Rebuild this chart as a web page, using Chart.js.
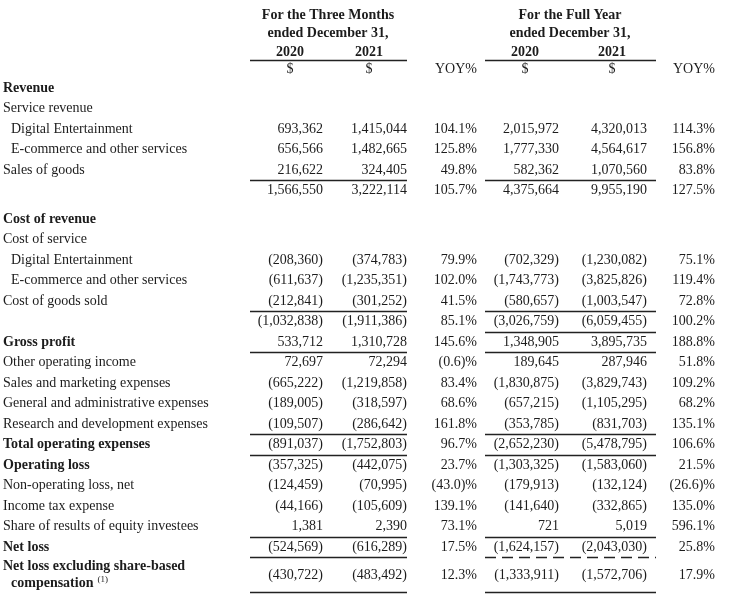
<!DOCTYPE html>
<html><head><meta charset="utf-8">
<script src="https://cdn.jsdelivr.net/npm/chart.js@4/dist/chart.umd.min.js"></script>
<style>html,body{margin:0;padding:0;background:#fff;}#wrap{width:740px;height:596px;}</style>
</head><body><div id="wrap"><canvas id="c" width="740" height="596"></canvas></div>
<script>
// ---------- DATA ----------
const rowLabels = [
  "Revenue", "Service revenue", "Digital Entertainment", "E-commerce and other services", "Sales of goods", "",
  "Cost of revenue", "Cost of service", "Digital Entertainment", "E-commerce and other services", "Cost of goods sold", "",
  "Gross profit", "Other operating income", "Sales and marketing expenses", "General and administrative expenses",
  "Research and development expenses", "Total operating expenses", "Operating loss", "Non-operating loss, net",
  "Income tax expense", "Share of results of equity investees", "Net loss", "Net loss excluding share-based|compensation"
];
const threeMonths2020 = [null, null, 693362, 656566, 216622, 1566550, null, null, -208360, -611637, -212841, -1032838,
  533712, 72697, -665222, -189005, -109507, -891037, -357325, -124459, -44166, 1381, -524569, -430722];
const threeMonths2021 = [null, null, 1415044, 1482665, 324405, 3222114, null, null, -374783, -1235351, -301252, -1911386,
  1310728, 72294, -1219858, -318597, -286642, -1752803, -442075, -70995, -105609, 2390, -616289, -483492];
const threeMonthsYoy = [null, null, 104.1, 125.8, 49.8, 105.7, null, null, 79.9, 102.0, 41.5, 85.1,
  145.6, -0.6, 83.4, 68.6, 161.8, 96.7, 23.7, -43.0, 139.1, 73.1, 17.5, 12.3];
const fullYear2020 = [null, null, 2015972, 1777330, 582362, 4375664, null, null, -702329, -1743773, -580657, -3026759,
  1348905, 189645, -1830875, -657215, -353785, -2652230, -1303325, -179913, -141640, 721, -1624157, -1333911];
const fullYear2021 = [null, null, 4320013, 4564617, 1070560, 9955190, null, null, -1230082, -3825826, -1003547, -6059455,
  3895735, 287946, -3829743, -1105295, -831703, -5478795, -1583060, -132124, -332865, 5019, -2043030, -1572706];
const fullYearYoy = [null, null, 114.3, 156.8, 83.8, 127.5, null, null, 75.1, 119.4, 72.8, 100.2,
  188.8, 51.8, 109.2, 68.2, 135.1, 106.6, 21.5, -26.6, 135.0, 596.1, 25.8, 17.9];
const periodTitles = ["For the Three Months|ended December 31,", "For the Full Year|ended December 31,"];
const yearLabels = ["2020", "2021"];

// ---------- STYLE / LAYOUT ----------
const boldRows = [0, 6, 12, 17, 18, 22, 23];
const indentRows = [2, 3, 8, 9];
const gapBeforeRows = [6];
const twoLineRows = [23];
// underline after row: [left group, right group] ('s' solid, 'd' dashed, '' none)
const underlines = {4: ['s','s'], 10: ['s','s'], 11: ['','s'], 12: ['s','s'], 16: ['s','s'], 17: ['s','s'],
  21: ['s','s'], 22: ['s','d'], 23: ['s','s']};
const COLS = { labelX: 3, indentX: 11, right: [323, 407, 477, 559, 647, 715],
  groups: [{l: 250, r: 407, c: 328, years: [290, 369], yoy: 477}, {l: 485, r: 656, c: 570, years: [525, 612], yoy: 715}] };
const HEAD_Y = [-3.56, -2.68, -1.76, -0.93];
const FONT = "'Liberation Serif', 'Times New Roman', serif";
const INK = '#1c1c1c';

// row positions in row units
const rowY = [];
{ let v = 0; rowLabels.forEach((_, i) => {
    if (i > 0) v += 1 + (gapBeforeRows.includes(i) ? 0.4 : 0) + (twoLineRows.includes(i) ? 0.36 : 0);
    rowY.push(v); }); }

function fmtNum(n) {
  if (n === null) return '';
  const s = Math.abs(n).toLocaleString('en-US');
  return n < 0 ? '(' + s + ')' : s;
}
function fmtPct(p) {
  if (p === null) return '';
  const s = Math.abs(p).toFixed(1);
  return p < 0 ? '(' + s + ')%' : s + '%';
}

const tablePlugin = {
  id: 'tablePlugin',
  afterDraw(chart) {
    const ctx = chart.ctx, xs = chart.scales.x, ys = chart.scales.y;
    const X = v => xs.getPixelForValue(v), Y = v => ys.getPixelForValue(v);
    ctx.save();
    ctx.fillStyle = INK; ctx.strokeStyle = '#222'; ctx.textBaseline = 'middle';
    const unit = Math.abs(Y(1) - Y(0));
    // headers
    COLS.groups.forEach((g, gi) => {
      ctx.font = 'bold 14px ' + FONT; ctx.textAlign = 'center';
      const t = periodTitles[gi].split('|');
      ctx.fillText(t[0], X(g.c), Y(HEAD_Y[0]));
      ctx.fillText(t[1], X(g.c), Y(HEAD_Y[1]));
      yearLabels.forEach((yl, k) => ctx.fillText(yl, X(g.years[k]), Y(HEAD_Y[2])));
      ctx.lineWidth = 1.4;
      const ly = Math.round(Y((HEAD_Y[2] + HEAD_Y[3]) / 2)) + 0.5;
      ctx.beginPath(); ctx.moveTo(X(g.l), ly); ctx.lineTo(X(g.r), ly); ctx.stroke();
      ctx.font = '14px ' + FONT;
      yearLabels.forEach((yl, k) => ctx.fillText('$', X(g.years[k]), Y(HEAD_Y[3])));
      ctx.textAlign = 'right';
      ctx.fillText('YOY%', X(g.yoy), Y(HEAD_Y[3]));
    });
    // rows
    const cols = [threeMonths2020, threeMonths2021, threeMonthsYoy, fullYear2020, fullYear2021, fullYearYoy];
    rowLabels.forEach((lab, i) => {
      const bold = boldRows.includes(i);
      const yc = Y(rowY[i]);
      ctx.font = (bold ? 'bold ' : '') + '14px ' + FONT;
      ctx.textAlign = 'left';
      const lx = X(indentRows.includes(i) ? COLS.indentX : COLS.labelX);
      if (twoLineRows.includes(i)) {
        const parts = lab.split('|');
        ctx.fillText(parts[0], lx, yc - 0.42 * unit);
        ctx.fillText(parts[1], lx + 8, yc + 0.42 * unit);
        const w = ctx.measureText(parts[1]).width;
        ctx.font = '9px ' + FONT;
        ctx.fillText('(1)', lx + 8 + w + 4, yc + 0.42 * unit - 4);
      } else if (lab) {
        ctx.fillText(lab, lx, yc);
      }
      ctx.font = '14px ' + FONT; ctx.textAlign = 'right';
      cols.forEach((arr, c) => {
        const txt = (c === 2 || c === 5) ? fmtPct(arr[i]) : fmtNum(arr[i]);
        if (txt) ctx.fillText(txt, X(COLS.right[c]), yc);
      });
      const u = underlines[i];
      if (u) {
        const off = twoLineRows.includes(i) ? 0.84 : 0.5;
        const uy = Math.round(Y(rowY[i] + off)) + 0.5;
        COLS.groups.forEach((g, gi) => {
          if (!u[gi]) return;
          ctx.lineWidth = 1.4;
          ctx.setLineDash(u[gi] === 'd' ? [11, 6] : []);
          ctx.beginPath(); ctx.moveTo(X(g.l), uy); ctx.lineTo(X(g.r), uy); ctx.stroke();
        });
        ctx.setLineDash([]);
      }
    });
    ctx.restore();
  }
};

const PX_PER_ROW = 20.5, TOP_ROW_PX = 88, H = 596, W = 740;
new Chart(document.getElementById('c'), {
  type: 'scatter',
  data: { datasets: [] },
  options: {
    responsive: false, animation: false, devicePixelRatio: 1,
    layout: { padding: 0 },
    plugins: { legend: { display: false }, tooltip: { enabled: false } },
    scales: {
      x: { type: 'linear', display: false, min: 0, max: W },
      y: { type: 'linear', display: false, reverse: true,
           min: -TOP_ROW_PX / PX_PER_ROW, max: -TOP_ROW_PX / PX_PER_ROW + H / PX_PER_ROW }
    }
  },
  plugins: [tablePlugin]
});
</script></body></html>
